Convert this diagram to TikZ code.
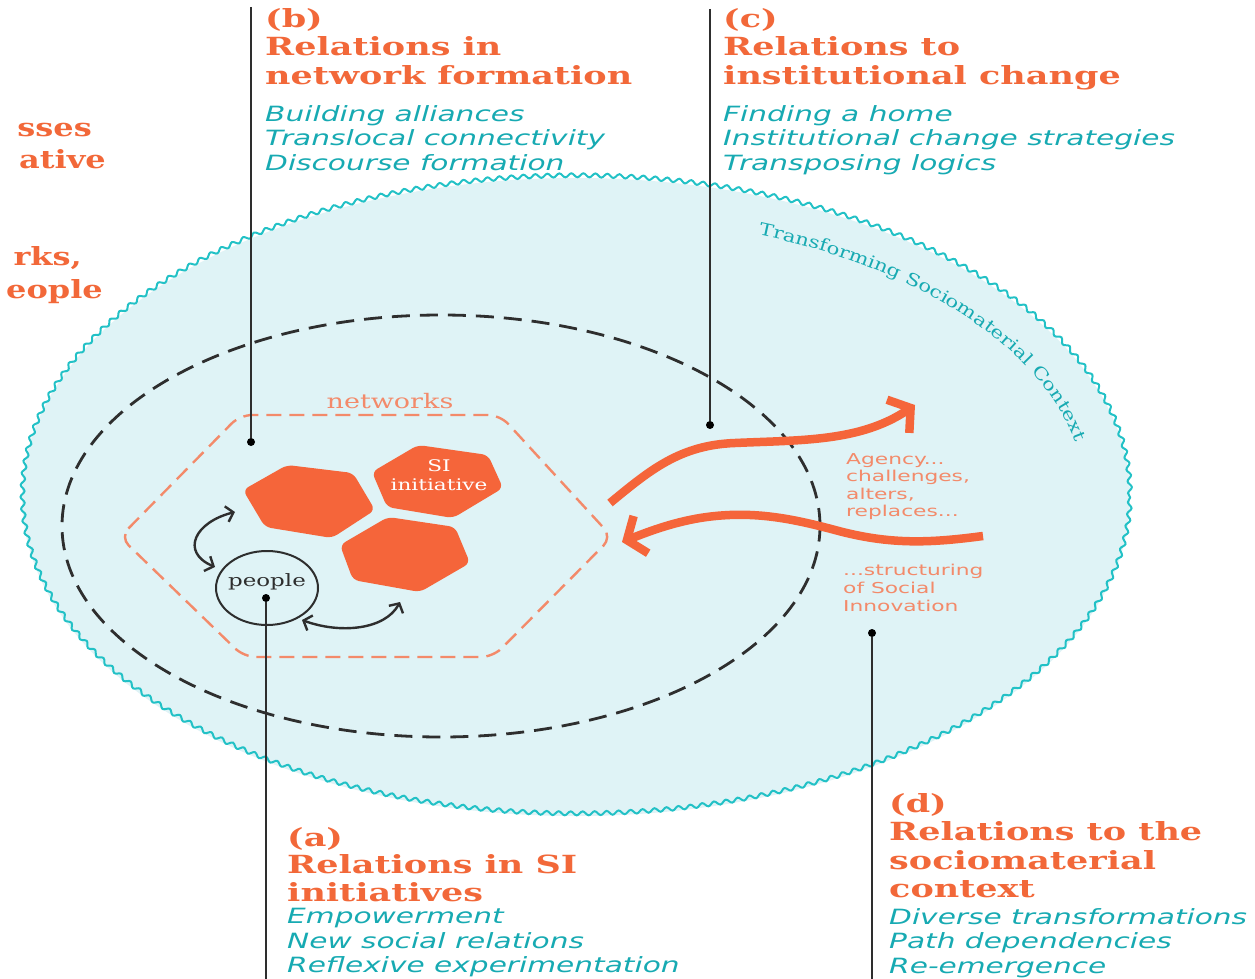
\documentclass[tikz,border=0pt]{standalone}
\usepackage{fontspec}
\usetikzlibrary{decorations.pathmorphing,decorations.text,arrows.meta}
\newfontfamily\hfont[FakeStretch=1.4]{DejaVu Serif}
\newfontfamily\ffont[FakeStretch=1.28]{DejaVu Serif}
\newfontfamily\ifont[FakeStretch=1.41]{DejaVu Sans}
\newfontfamily\sfnt[FakeStretch=1.35]{DejaVu Serif}
\newfontfamily\tfnt[FakeStretch=1.25]{DejaVu Serif}
\newfontfamily\afont[FakeStretch=1.45]{DejaVu Sans}
\definecolor{hd}{HTML}{F26839}
\definecolor{itc}{HTML}{17AAB2}
\definecolor{bgc}{HTML}{DFF3F6}
\definecolor{wav}{HTML}{22C1C6}
\definecolor{sal}{HTML}{F38A6A}
\definecolor{hexo}{HTML}{F5653A}
\definecolor{dk}{HTML}{2E2E2E}
\tikzset{
  head/.style={anchor=north west, inner sep=0pt, align=left, text=hd, font=\hfont\bfseries\fontsize{25}{28.5}\selectfont},
  items/.style={anchor=north west, inner sep=0pt, align=left, text=itc, font=\ifont\itshape\fontsize{21}{24.5}\selectfont},
  frag/.style={anchor=base east, inner sep=0pt, text=hd, font=\ffont\bfseries\fontsize{25}{28.5}\selectfont},
  lead/.style={draw=dk, line width=2.6pt},
  dotn/.style={circle, fill=black, inner sep=0pt, minimum size=8pt},
  hexf/.style={fill=hexo, rounded corners=6pt},
  dbl/.style={draw=dk, line width=2.4pt, {Straight Barb[length=7pt,width=16pt]}-{Straight Barb[length=7pt,width=16pt]}},
  oarr/.style={draw=hexo, line width=8.5pt, -{Straight Barb[length=15pt,width=40pt]}},
  atext/.style={anchor=north west, inner sep=0pt, align=left, text=sal, font=\afont\fontsize{15}{17.5}\selectfont},
}
\begin{document}
\begin{tikzpicture}[x=1pt,y=-1pt]
\useasboundingbox (0,0) rectangle (1255,979);
% context
\fill[bgc] (576,497) ellipse [x radius=554pt, y radius=319pt];
\draw[wav, line width=2pt, decorate, decoration={snake, segment length=12pt, amplitude=2pt}] (576,497) ellipse [x radius=554pt, y radius=319pt];
\begin{scope}[shift={(576,497)}]
\path[decorate, decoration={text along path, text={|\tfnt\fontsize{17}{19}\selectfont|Transforming Sociomaterial Context}, text align=left, text color=itc}]
  (182.4,-262.3) arc[start angle=69, end angle=4, x radius=509pt, y radius=281pt];
\end{scope}
% dashed ellipse
\draw[dk, line width=2.8pt, dash pattern=on 18pt off 10pt] (441,526) ellipse [x radius=379pt, y radius=211pt];
% networks hexagon
\draw[sal, line width=2.4pt, dash pattern=on 15pt off 8pt, rounded corners=12pt] (120,537) -- (240,415) -- (500,415) -- (612,537) -- (493,657) -- (244,657) -- cycle;
\node[text=sal, font=\sfnt\fontsize{20}{22}\selectfont, inner sep=0pt] (nw) at (390,401) {networks};
% SI hexagons
\fill[hexf] (243,490) -- (287,465) -- (353,473) -- (375,510) -- (332,538) -- (265,527) -- cycle;
\fill[hexf] (372,472) -- (418,445) -- (488,455) -- (503,488) -- (453,518) -- (387,507) -- cycle;
\fill[hexf] (340,545) -- (388,517) -- (455,527) -- (470,563) -- (420,592) -- (353,580) -- cycle;
\node[text=white, align=center, font=\sfnt\fontsize{16}{19}\selectfont, inner sep=0pt] (si) at (439,475) {SI\\initiative};
% people
\draw[dk, line width=2pt] (267,588) ellipse [x radius=51pt, y radius=37pt];
\node[text=dk, font=\sfnt\fontsize{17}{19}\selectfont, inner sep=0pt] (pp) at (267,582) {people};
% double arrows
\coordinate (a1) at (235,512); \coordinate (a2) at (215,567);
\draw[dbl] (a1) .. controls (195,522) and (180,552) .. (a2);
\coordinate (b1) at (302,620); \coordinate (b2) at (400,602);
\draw[dbl] (b1) .. controls (340,634) and (385,630) .. (b2);
% lead lines
\node[dotn] (pa) at (266,598) {}; \coordinate (ea) at (266,979);
\draw[lead] (pa) -- (ea);
\node[dotn] (pb) at (251,442) {}; \coordinate (eb) at (251,7);
\draw[lead] (eb) -- (pb);
\node[dotn] (pc) at (710,425) {}; \coordinate (ec) at (710,9);
\draw[lead] (ec) -- (pc);
\node[dotn] (pd) at (872,633) {}; \coordinate (ed) at (872,979);
\draw[lead] (pd) -- (ed);
% orange arrows
\coordinate (u0) at (610,503); \coordinate (u1) at (915,405);
\draw[oarr] (u0) .. controls (650,470) and (680,445) .. (735,443) .. controls (800,440) and (860,442) .. (u1);
\coordinate (l0) at (983,536); \coordinate (l1) at (622,542);
\draw[oarr] (l0) .. controls (930,543) and (890,545) .. (835,530) .. controls (790,518) and (750,510) .. (700,518) .. controls (670,523) and (645,533) .. (l1);
\node[atext] (ag) at (846,453) {Agency...\\challenges,\\alters,\\replaces...};
\node[atext, font=\afont\fontsize{15}{18}\selectfont] (st) at (843,564) {...structuring\\of Social\\Innovation};
% text blocks
\node[head] (hb) at (265,8) {(b)\\Relations in\\network formation};
\node[items] (ib) at (265,105) {Building alliances\\Translocal connectivity\\Discourse formation};
\node[head] (hc) at (723,8) {(c)\\Relations to\\institutional change};
\node[items] (ic) at (723,105) {Finding a home\\Institutional change strategies\\Transposing logics};
\node[head, font=\hfont\bfseries\fontsize{25}{27.5}\selectfont] (ha) at (287,827) {(a)\\Relations in SI\\initiatives};
\node[items] (ia) at (287,908) {Empowerment\\New social relations\\Reflexive experimentation};
\node[head] (hd) at (889,793) {(d)\\Relations to the\\sociomaterial\\context};
\node[items] (id) at (889,908) {Diverse transformations\\Path dependencies\\Re-emergence};
% left fragments
\node[frag] (f1) at (92,136) {sses};
\node[frag] (f2) at (106,168) {ative};
\node[frag] (f3) at (82,265) {rks,};
\node[frag] (f4) at (103,298) {eople};
\end{tikzpicture}
\end{document}
